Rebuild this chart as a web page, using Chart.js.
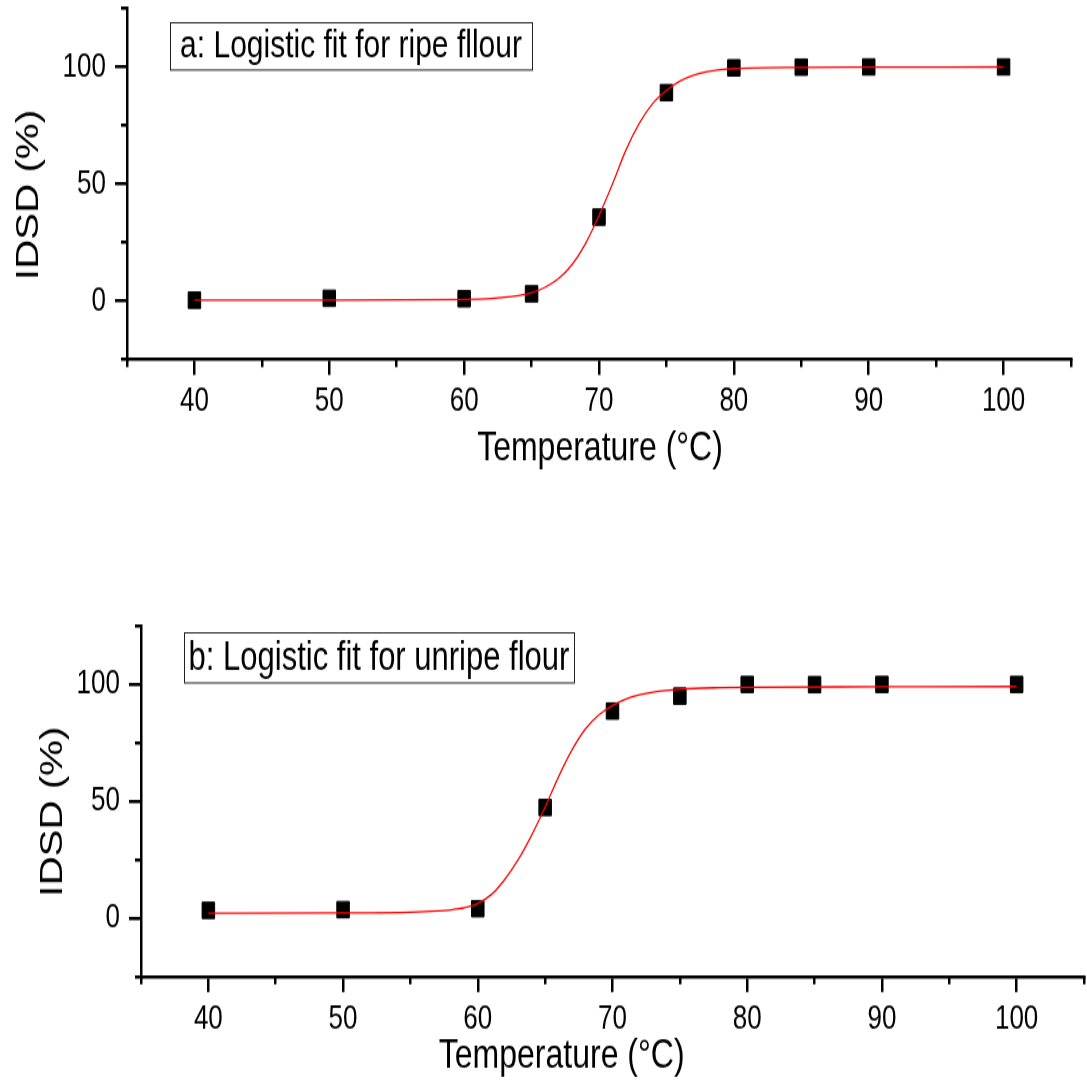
<!DOCTYPE html>
<html lang="en">
<head>
<meta charset="UTF-8">
<title>Logistic fit - IDSD vs temperature</title>
<script src="https://cdn.jsdelivr.net/npm/chart.js"></script>
<style>
    html, body { margin: 0; padding: 0; background: #fff; }
    #page { position: relative; width: 1087px; height: 1082px; overflow: hidden; }
    /* the original figure is stretched vertically (about 1.3x), so the
       canvases are drawn 370px high and shown 481px high */
    canvas { position: absolute; left: 0; }
</style>
</head>
<body>
<div id="page">
    <canvas id="chartA" width="1087" height="370" style="top:0;width:1087px;height:481px"></canvas>
    <canvas id="chartB" width="1087" height="370" style="top:601px;width:1087px;height:481px"></canvas>
</div>
<script>
// measured points (temperature in °C, IDSD in %)
const tempPoints = [40, 50, 60, 65, 70, 75, 80, 85, 90, 100];
const ripeIDSD   = [0.3, 1.1, 0.9, 3.0, 35.8, 89.0, 99.6, 99.9, 100, 100];
const unripeIDSD = [3.3, 3.6, 4.0, 47.3, 88.6, 95.0, 100, 99.9, 100, 100];

// logistic fit curves
const ripeFitTemp = [40, 50, 60, 62, 63, 64, 65, 66, 67, 68, 69, 70, 71, 72, 73, 74, 75, 76, 77, 78, 80, 85, 90, 100];
const ripeFitIDSD = [0.3, 0.3, 0.6, 1.0, 1.5, 2.3, 3.5, 5.8, 9.5, 15.5, 24.5, 36.5, 50, 64.5, 76, 84.5, 90, 94, 96.5, 98, 99.3, 99.8, 99.9, 100];
const unripeFitTemp = [40, 50, 55, 57, 58, 59, 60, 61, 62, 63, 64, 65, 66, 67, 68, 69, 70, 71, 72, 73, 75, 78, 80, 90, 100];
const unripeFitIDSD = [2.1, 2.2, 2.5, 3.0, 3.5, 4.4, 6.3, 10, 16.5, 25, 35.5, 47.5, 60.5, 72, 81, 87, 91, 93.8, 95.6, 96.7, 97.9, 98.6, 98.8, 99.0, 99.1];

// axes
const xRange = [35, 105];
const yRange = [-25, 125];
const xMajorTicks = [40, 50, 60, 70, 80, 90, 100];
const xMinorTicks = [35, 45, 55, 65, 75, 85, 95, 105];
const yMajorTicks = [0, 50, 100];
const yMinorTicks = [-25, 25, 75, 125];

const xTitle = 'Temperature (°C)';
const yTitle = 'IDSD (%)';
const captionA = 'a: Logistic fit for ripe fllour';
const captionB = 'b: Logistic fit for unripe flour';

const SANS = "'Liberation Sans', Arial, sans-serif";

function toXY(xs, ys) {
    return xs.map((x, i) => ({ x: x, y: ys[i] }));
}

function setTicks(values) {
    return scale => { scale.ticks = values.map(v => ({ value: v })); };
}

// fixed axis size, and no extra room reserved for labels at the ends
function fixSize(key, size) {
    return scale => {
        scale[key] = size;
        scale.paddingTop = 0;
        scale.paddingBottom = 0;
        scale.paddingLeft = 0;
        scale.paddingRight = 0;
    };
}

// boxed caption in the upper left of the plot
const captionPlugin = {
    id: 'caption',
    afterDraw(chart, args, opts) {
        const ctx = chart.ctx;
        const area = chart.chartArea;
        const x = area.left + opts.dx;
        const y = area.top + opts.dy;
        ctx.save();
        ctx.strokeStyle = '#222';
        ctx.lineWidth = 1;
        ctx.strokeRect(Math.round(x) + 0.5, Math.round(y) + 0.5, opts.w, opts.h);
        ctx.fillStyle = '#000';
        ctx.font = opts.size + 'px ' + SANS;
        ctx.textAlign = 'center';
        ctx.textBaseline = 'middle';
        ctx.fillText(opts.text, x + opts.w / 2, y + opts.h / 2 + 1);
        ctx.restore();
    }
};

// axis titles, placed relative to the plot area
const axisTitlePlugin = {
    id: 'axisTitles',
    afterDraw(chart, args, opts) {
        const ctx = chart.ctx;
        const area = chart.chartArea;
        ctx.save();
        ctx.fillStyle = '#000';
        ctx.textAlign = 'center';
        ctx.textBaseline = 'middle';

        ctx.font = opts.xSize + 'px ' + SANS;
        ctx.fillText(opts.xText, (area.left + area.right) / 2 + opts.xdx, area.bottom + opts.xdy);

        ctx.translate(area.left + opts.ydx, (area.top + area.bottom) / 2 + opts.ydy);
        ctx.rotate(-Math.PI / 2);
        ctx.font = opts.ySize + 'px ' + SANS;
        ctx.fillText(opts.yText, 0, 0);
        ctx.restore();
    }
};

function makeChart(id, values, fitX, fitY, lay) {
    return new Chart(document.getElementById(id), {
        type: 'scatter',
        data: {
            datasets: [
                {
                    label: 'Logistic fit',
                    data: toXY(fitX, fitY),
                    showLine: true,
                    borderColor: '#ff0000',
                    borderWidth: 1.3,
                    pointRadius: 0,
                    cubicInterpolationMode: 'monotone',
                    order: 0
                },
                {
                    label: 'IDSD',
                    data: toXY(tempPoints, values),
                    pointStyle: 'rect',
                    pointRadius: 8.85,
                    backgroundColor: '#000',
                    borderColor: '#000',
                    borderWidth: 1,
                    order: 1
                }
            ]
        },
        options: {
            responsive: false,
            animation: false,
            devicePixelRatio: 1,
            layout: { padding: lay.padding, autoPadding: false },
            plugins: {
                legend: { display: false },
                tooltip: { enabled: false },
                caption: lay.caption,
                axisTitles: {
                    xText: xTitle, xSize: 32, xdx: lay.xdx, xdy: lay.xdy,
                    yText: yTitle, ySize: 31, ydx: lay.ydx, ydy: lay.ydy
                }
            },
            scales: {
                x: {
                    type: 'linear', position: 'bottom',
                    min: xRange[0], max: xRange[1],
                    afterBuildTicks: setTicks(xMajorTicks),
                    afterFit: fixSize('height', lay.xHeight),
                    grid: { drawOnChartArea: false, tickLength: 12, color: '#000', lineWidth: 2.5 },
                    border: { display: true, color: '#000', width: 2.4 },
                    ticks: { color: '#000', font: { family: SANS, size: 26 }, padding: 5, maxRotation: 0, autoSkip: false }
                },
                x2: {
                    type: 'linear', position: 'bottom', weight: -1,
                    min: xRange[0], max: xRange[1],
                    afterBuildTicks: setTicks(xMinorTicks),
                    afterFit: fixSize('height', 0),
                    grid: { drawOnChartArea: false, tickLength: 6, color: '#000', lineWidth: 2.5 },
                    border: { display: false },
                    ticks: { display: false, autoSkip: false }
                },
                y: {
                    type: 'linear', position: 'left',
                    min: yRange[0], max: yRange[1],
                    afterBuildTicks: setTicks(yMajorTicks),
                    afterFit: fixSize('width', lay.yWidth),
                    grid: { drawOnChartArea: false, tickLength: 12, color: '#000', lineWidth: 2.5 },
                    border: { display: true, color: '#000', width: 2.5 },
                    ticks: { color: '#000', font: { family: SANS, size: 26 }, padding: 9, autoSkip: false }
                },
                y2: {
                    type: 'linear', position: 'left', weight: -1,
                    min: yRange[0], max: yRange[1],
                    afterBuildTicks: setTicks(yMinorTicks),
                    afterFit: fixSize('width', 0),
                    grid: { drawOnChartArea: false, tickLength: 6, color: '#000', lineWidth: 2.5 },
                    border: { display: false },
                    ticks: { display: false, autoSkip: false }
                }
            }
        },
        plugins: [captionPlugin, axisTitlePlugin]
    });
}

makeChart('chartA', ripeIDSD, ripeFitTemp, ripeFitIDSD, {
    padding: { top: 6.5, right: 16, bottom: 0, left: 0 },
    xHeight: 93.6, yWidth: 127,
    xdx: 1, xdy: 68.8, ydx: -97.5, ydy: 8.5,
    caption: { text: captionA, size: 30, dx: 43, dy: 10.2, w: 362, h: 36.4 }
});

makeChart('chartB', unripeIDSD, unripeFitTemp, unripeFitIDSD, {
    padding: { top: 19.2, right: 3, bottom: 0, left: 0 },
    xHeight: 81.2, yWidth: 141,
    xdx: -50.8, xdy: 61.4, ydx: -88, ydy: 8,
    caption: { text: captionB, size: 31, dx: 43, dy: 4.6, w: 390, h: 38.5 }
});
</script>
</body>
</html>
